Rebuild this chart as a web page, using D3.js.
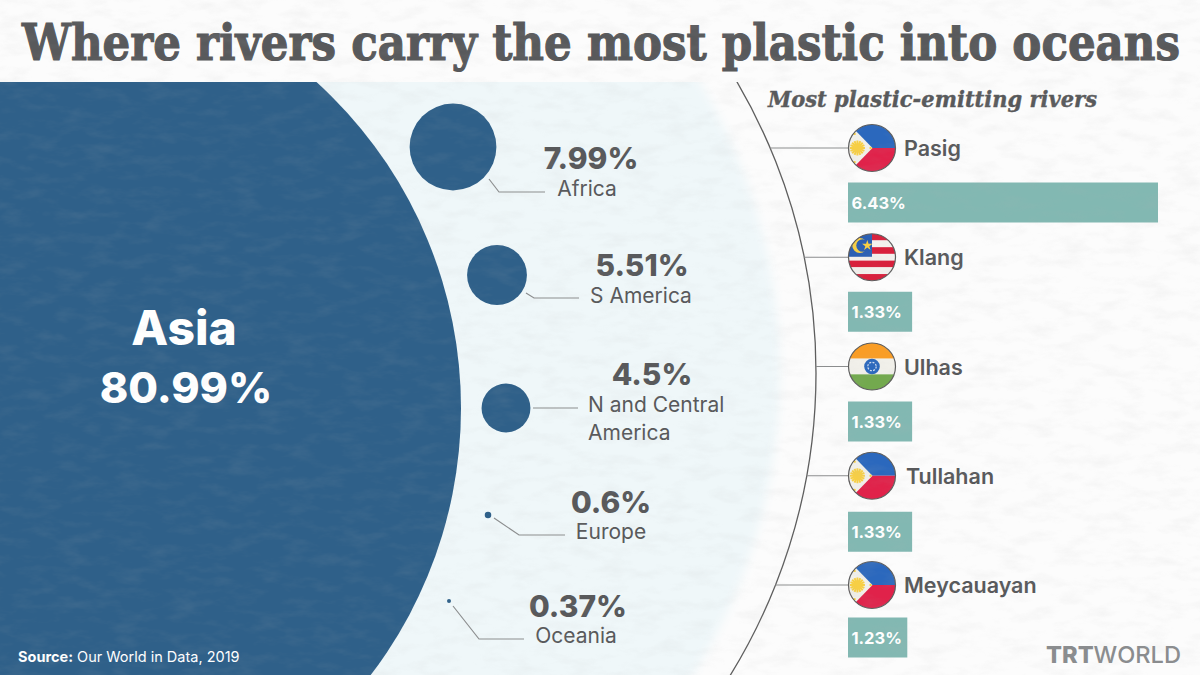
<!DOCTYPE html>
<html>
<head>
<meta charset="utf-8">
<script src="https://cdn.jsdelivr.net/npm/d3@7"></script>
<style>
html, body { margin: 0; padding: 0; background: #fafafa; }
svg { display: block; }
text { font-family: Inter, "Noto Sans", sans-serif; }
</style>
</head>
<body>
<div id="canvas"></div>
<script>
// chart values
var continents = ["Africa", "S America", "N and Central America", "Europe", "Oceania"];
var continentValues = [7.99, 5.51, 4.5, 0.6, 0.37];
var asiaName = "Asia";
var asiaValue = 80.99;
var rivers = ["Pasig", "Klang", "Ulhas", "Tullahan", "Meycauayan"];
var riverValues = [6.43, 1.33, 1.33, 1.33, 1.23];
var riverFlags = ["ph", "my", "in", "ph", "ph"];

var titleText = "Where rivers carry the most plastic into oceans";
var riversHeading = "Most plastic-emitting rivers";

var width = 1200, height = 675;
var blue = "#2f6089", teal = "#82b8b2", grey = "#58595b";

// hand placed layout of the bubbles and their labels
var bubbleAt = [[453, 147], [497, 275], [506, 408], [488, 515], [449, 601]];
var leaders = [
  [[489, 179], [499, 192], [545, 192]],
  [[526, 293], [534, 298], [579, 298]],
  [[533, 408], [578, 408]],
  [[494, 518], [519, 535], [565, 535]],
  [[453, 606], [479, 639], [524, 639]]
];
var valueAt = [[591, 169], [642, 276], [652, 385], [611, 513], [578, 617]];
var nameAt = [[587, 196], [641, 303], [588, 412], [611, 539], [576, 643]];
var barNudge = [0, 0, 0.5, 1.5, -2];

var svg = d3.select("#canvas").append("svg")
    .attr("width", width)
    .attr("height", height)
    .attr("viewBox", "0 0 " + width + " " + height);

var defs = svg.append("defs");

// everything big is cut off under the title band
defs.append("clipPath").attr("id", "below-title")
  .append("rect").attr("x", 0).attr("y", 82).attr("width", width).attr("height", height - 82);

defs.append("filter").attr("id", "soft")
  .attr("x", "-5%").attr("y", "-5%").attr("width", "110%").attr("height", "110%")
  .append("feGaussianBlur").attr("stdDeviation", 5);

// paper grain
var grain = defs.append("filter").attr("id", "paper")
  .attr("x", 0).attr("y", 0).attr("width", "100%").attr("height", "100%");
grain.append("feTurbulence")
  .attr("type", "fractalNoise")
  .attr("baseFrequency", "0.035 0.09")
  .attr("numOctaves", 4)
  .attr("seed", 7);
grain.append("feColorMatrix")
  .attr("type", "matrix")
  .attr("values", "0 0 0 0 0.45  0 0 0 0 0.45  0 0 0 0 0.45  1.4 0 0 0 -0.62");

svg.append("rect").attr("width", width).attr("height", height).attr("fill", "#fcfcfc");

var below = svg.append("g").attr("clip-path", "url(#below-title)");

// radius is linear in the value in the original, not in area
var r = d3.scaleLinear().domain([0, 7.99]).range([0, 43.4]);

// pale circle behind the bubbles
below.append("circle")
    .attr("cx", 211).attr("cy", 373).attr("r", 569)
    .attr("fill", "#eff7f9")
    .attr("filter", "url(#soft)");

// the big one
below.append("circle")
    .attr("cx", 461 - r(asiaValue)).attr("cy", 408).attr("r", r(asiaValue))
    .attr("fill", blue);

// river arc
var arcX = 241, arcY = 373, arcR = 575;
below.append("circle")
    .attr("cx", arcX).attr("cy", arcY).attr("r", arcR)
    .attr("fill", "none")
    .attr("stroke", "#5d5d5d")
    .attr("stroke-width", 1.3);

// bubbles
svg.selectAll("circle.bubble")
    .data(continentValues)
  .enter().append("circle")
    .attr("class", "bubble")
    .attr("cx", function(d, i) { return bubbleAt[i][0]; })
    .attr("cy", function(d, i) { return bubbleAt[i][1]; })
    .attr("r", function(d) { return r(d); })
    .attr("fill", blue);

var leaderLine = d3.line();
svg.selectAll("path.leader")
    .data(leaders)
  .enter().append("path")
    .attr("class", "leader")
    .attr("d", leaderLine)
    .attr("fill", "none")
    .attr("stroke", "#8b8d8e")
    .attr("stroke-width", 1.2);

svg.selectAll("text.cvalue")
    .data(continentValues)
  .enter().append("text")
    .attr("class", "cvalue")
    .attr("x", function(d, i) { return valueAt[i][0]; })
    .attr("y", function(d, i) { return valueAt[i][1]; })
    .attr("text-anchor", "middle")
    .attr("font-size", 30)
    .attr("font-weight", 800)
    .attr("fill", grey)
    .text(function(d) { return d + "%"; });

continents.forEach(function(name, i) {
  var t = svg.append("text")
      .attr("x", nameAt[i][0])
      .attr("y", nameAt[i][1])
      .attr("font-size", 21)
      .attr("font-weight", 400)
      .attr("fill", grey);
  if (name === "N and Central America") {
    // two lines in the original
    t.text("N and Central");
    svg.append("text")
        .attr("x", nameAt[i][0])
        .attr("y", nameAt[i][1] + 28)
        .attr("font-size", 21)
        .attr("fill", grey)
        .text("America");
  } else {
    t.attr("text-anchor", "middle").text(name);
  }
});

// Asia label
svg.append("text")
    .attr("x", 184).attr("y", 345)
    .attr("text-anchor", "middle")
    .attr("font-size", 48).attr("font-weight", 800)
    .attr("fill", "#fff")
    .text(asiaName);
svg.append("text")
    .attr("x", 186).attr("y", 403)
    .attr("text-anchor", "middle")
    .attr("font-size", 43).attr("font-weight", 800)
    .attr("fill", "#fff")
    .text(asiaValue + "%");

// title
svg.append("text")
    .attr("x", 22).attr("y", 60)
    .attr("textLength", 1158)
    .attr("lengthAdjust", "spacingAndGlyphs")
    .attr("font-size", 50)
    .attr("font-weight", 700)
    .style("font-family", "'DejaVu Serif', serif")
    .attr("fill", grey)
    .attr("stroke", grey)
    .attr("stroke-width", 1.2)
    .text(titleText);

svg.append("text")
    .attr("x", 768).attr("y", 107)
    .attr("textLength", 329)
    .attr("lengthAdjust", "spacingAndGlyphs")
    .attr("font-size", 22)
    .attr("font-weight", 700)
    .attr("font-style", "italic")
    .style("font-family", "'DejaVu Serif', serif")
    .attr("fill", grey)
    .attr("stroke", grey)
    .attr("stroke-width", 0.4)
    .text(riversHeading);

// rivers: one row per river, bar under the flag
var rowY = d3.scalePoint().domain(rivers).range([148, 585]);
var barX = d3.scaleLinear().domain([0, 6.43]).range([848, 1158]);
var flagX = 872, flagR = 23.5, barH = 40;

svg.selectAll("path.riverlink")
    .data(rivers)
  .enter().append("path")
    .attr("class", "riverlink")
    .attr("d", function(d) {
      var y = rowY(d);
      var x0 = arcX + Math.sqrt(arcR * arcR - (y - arcY) * (y - arcY));
      return leaderLine([[x0, y], [flagX - flagR, y]]);
    })
    .attr("stroke", "#8b8d8e")
    .attr("stroke-width", 1.2);

svg.selectAll("rect.bar")
    .data(riverValues)
  .enter().append("rect")
    .attr("class", "bar")
    .attr("x", barX(0))
    .attr("y", function(d, i) { return rowY(rivers[i]) + 54.5 + barNudge[i] - barH / 2; })
    .attr("width", function(d) { return barX(d) - barX(0); })
    .attr("height", barH)
    .attr("fill", teal);

svg.selectAll("text.barvalue")
    .data(riverValues)
  .enter().append("text")
    .attr("class", "barvalue")
    .attr("x", barX(0) + 3.5)
    .attr("y", function(d, i) { return rowY(rivers[i]) + 54.5 + barNudge[i] + 6; })
    .attr("font-size", 16.5)
    .attr("font-weight", 700)
    .attr("fill", "#fff")
    .text(function(d) { return d + "%"; });

svg.selectAll("text.rivername")
    .data(rivers)
  .enter().append("text")
    .attr("class", "rivername")
    .attr("x", function(d) { return d === "Tullahan" ? 906 : 904; })
    .attr("y", function(d) { return rowY(d) + 8; })
    .attr("font-size", 21.5)
    .attr("font-weight", 600)
    .attr("fill", grey)
    .text(function(d) { return d; });

// flags
function drawFlag(g, code, id) {
  defs.append("clipPath").attr("id", id)
    .append("circle").attr("r", flagR);
  var f = g.append("g").attr("clip-path", "url(#" + id + ")");
  var s = flagR;
  if (code === "ph") {
    f.append("rect").attr("x", -s).attr("y", -s).attr("width", 2 * s).attr("height", s).attr("fill", "#2b68bd");
    f.append("rect").attr("x", -s).attr("y", 0).attr("width", 2 * s).attr("height", s).attr("fill", "#e0224a");
    f.append("path").attr("d", "M" + (-s) + "," + (-s * 1.05) + "L" + (s * 0.02) + ",0L" + (-s) + "," + (s * 1.05) + "Z").attr("fill", "#f1f0ea");
    var sun = f.append("g").attr("transform", "translate(" + (-s * 0.62) + ",0)");
    d3.range(8).forEach(function(k) {
      sun.append("rect").attr("x", -1).attr("y", -7.5).attr("width", 2).attr("height", 15)
          .attr("fill", "#f7cf45")
          .attr("transform", "rotate(" + (k * 22.5) + ")");
    });
    sun.append("circle").attr("r", 4.5).attr("fill", "#f7cf45");
    [[-0.74, -0.6], [-0.74, 0.6], [-0.06, 0]].forEach(function(p) {
      f.append("circle").attr("cx", p[0] * s).attr("cy", p[1] * s).attr("r", 1.2).attr("fill", "#f7cf45");
    });
  } else if (code === "my") {
    d3.range(7).forEach(function(k) {
      f.append("rect").attr("x", -s).attr("y", -s + k * (2 * s / 7)).attr("width", 2 * s).attr("height", 2 * s / 7)
          .attr("fill", k % 2 === 0 ? "#d8203c" : "#f4f1ee");
    });
    f.append("rect").attr("x", -s).attr("y", -s).attr("width", s).attr("height", s * 0.98).attr("fill", "#2b5fb3");
    f.append("circle").attr("cx", -s * 0.52).attr("cy", -s * 0.5).attr("r", 7.5).attr("fill", "#f7cf45");
    f.append("circle").attr("cx", -s * 0.4).attr("cy", -s * 0.5).attr("r", 6.3).attr("fill", "#2b5fb3");
    f.append("path")
        .attr("d", d3.symbol().type(d3.symbolStar).size(34))
        .attr("transform", "translate(" + (-s * 0.2) + "," + (-s * 0.5) + ")")
        .attr("fill", "#f7cf45");
  } else {
    f.append("rect").attr("x", -s).attr("y", -s).attr("width", 2 * s).attr("height", 2 * s / 3).attr("fill", "#f99d26");
    f.append("rect").attr("x", -s).attr("y", -s / 3).attr("width", 2 * s).attr("height", 2 * s / 3).attr("fill", "#f1f0ea");
    f.append("rect").attr("x", -s).attr("y", s / 3).attr("width", 2 * s).attr("height", 2 * s / 3).attr("fill", "#73a94e");
    f.append("circle").attr("r", 7.8).attr("fill", "#2b68bd");
    f.append("circle").attr("r", 4.2).attr("fill", "none").attr("stroke", "#cfdcf0").attr("stroke-width", 1.2).attr("stroke-dasharray", "2 1.3");
  }
  g.append("circle").attr("r", flagR).attr("fill", "none").attr("stroke", "#5d5d5d").attr("stroke-width", 1.2);
}

rivers.forEach(function(name, i) {
  var g = svg.append("g").attr("transform", "translate(" + flagX + "," + rowY(name) + ")");
  drawFlag(g, riverFlags[i], "flag" + i);
});

// source and logo
var src = svg.append("text")
    .attr("x", 18).attr("y", 662)
    .attr("font-size", 14.5)
    .attr("fill", "#fff");
src.append("tspan").attr("font-weight", 700).text("Source:");
src.append("tspan").text(" Our World in Data, 2019");

var logo = svg.append("text")
    .attr("x", 1046).attr("y", 663)
    .attr("textLength", 135)
    .attr("lengthAdjust", "spacingAndGlyphs")
    .attr("font-size", 23.5)
    .attr("fill", "#8a8c8e");
logo.append("tspan").attr("font-weight", 800).text("TRT");
logo.append("tspan").attr("font-weight", 500).text("WORLD");

// paper grain goes over everything
svg.append("rect")
    .attr("width", width).attr("height", height)
    .attr("filter", "url(#paper)")
    .attr("opacity", 0.16)
    .style("pointer-events", "none");
</script>
</body>
</html>
